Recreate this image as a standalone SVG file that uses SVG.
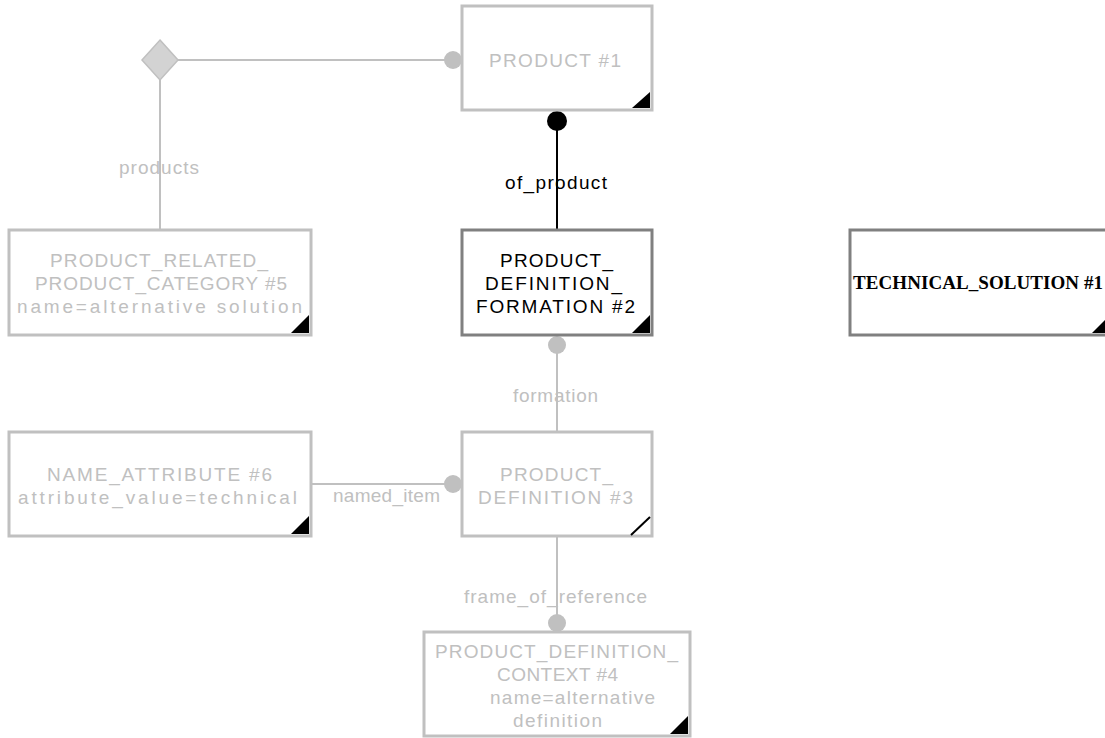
<svg xmlns="http://www.w3.org/2000/svg" width="1105" height="738" viewBox="0 0 1105 738">
<style>
.box{fill:#fff;stroke:#c0c0c0;stroke-width:3}
.box.act{stroke:#808080}
.t{font-family:"Liberation Sans",Arial,sans-serif;font-size:19px;fill:#c0c0c0}
.l{font-size:19px}
.t.act{fill:#000}
.ts{font-family:"Liberation Serif","Times New Roman",serif;font-size:19px;font-weight:bold;fill:#000}
.c{stroke:#c0c0c0;stroke-width:2;fill:none}
.c.act{stroke:#000}
.dot{fill:#c0c0c0}
.dot.act{fill:#000}
.tri{fill:#000}
</style>
<rect width="1105" height="738" fill="#fff"/>
<g id="connectors">
  <line class="c" x1="177" y1="60" x2="453" y2="60"/>
  <circle class="dot" cx="453" cy="60" r="9"/>
  <line class="c" x1="160" y1="80" x2="160" y2="230"/>
  <polygon points="160,40 178,60 160,80 142,60" fill="#d3d3d3" stroke="#c0c0c0" stroke-width="1.5"/>
  <text class="t l" x="119" y="174" textLength="80" lengthAdjust="spacing">products</text>
  <line class="c act" x1="557" y1="121" x2="557" y2="230"/>
  <circle class="dot act" cx="557" cy="121" r="10"/>
  <text class="t l act" x="505" y="189" textLength="102" lengthAdjust="spacing">of_product</text>
  <line class="c" x1="557" y1="345" x2="557" y2="432"/>
  <circle class="dot" cx="557" cy="345" r="9"/>
  <text class="t l" x="513" y="402" textLength="85" lengthAdjust="spacing">formation</text>
  <line class="c" x1="311" y1="484" x2="453" y2="484"/>
  <circle class="dot" cx="453" cy="484" r="9"/>
  <text class="t l" x="333" y="502" textLength="107" lengthAdjust="spacing">named_item</text>
  <line class="c" x1="557" y1="537" x2="557" y2="623"/>
  <circle class="dot" cx="557" cy="623" r="9"/>
  <text class="t l" x="464" y="603" textLength="183" lengthAdjust="spacing">frame_of_reference</text>
</g>
<g id="product1">
  <rect class="box" x="462" y="6" width="190" height="104"/>
  <polygon class="tri" points="650,92 650,108 632,108"/>
  <text class="t" x="489" y="67" textLength="132" lengthAdjust="spacing">PRODUCT #1</text>
</g>
<g id="prpc5">
  <rect class="box" x="9" y="230" width="302" height="105"/>
  <polygon class="tri" points="309,315 309,333 291,333"/>
  <text class="t" x="50" y="267" textLength="218" lengthAdjust="spacing">PRODUCT_RELATED_</text>
  <text class="t" x="35" y="290" textLength="252" lengthAdjust="spacing">PRODUCT_CATEGORY #5</text>
  <text class="t" x="17" y="313" textLength="285" lengthAdjust="spacing">name=alternative solution</text>
</g>
<g id="pdf2">
  <rect class="box act" x="462" y="230" width="190" height="105"/>
  <polygon class="tri" points="650,315 650,333 632,333"/>
  <text class="t act" x="500" y="267" textLength="113" lengthAdjust="spacing">PRODUCT_</text>
  <text class="t act" x="485" y="290" textLength="137" lengthAdjust="spacing">DEFINITION_</text>
  <text class="t act" x="476" y="313" textLength="159" lengthAdjust="spacing">FORMATION #2</text>
</g>
<g id="techsol1">
  <rect class="box act" x="850" y="230" width="262" height="105"/>
  <polygon class="tri" points="1110,315 1110,333 1092,333"/>
  <text class="ts" x="853" y="289" textLength="250" lengthAdjust="spacing">TECHNICAL_SOLUTION #1</text>
</g>
<g id="nameattr6">
  <rect class="box" x="9" y="432" width="302" height="104"/>
  <polygon class="tri" points="309,516 309,534 291,534"/>
  <text class="t" x="47" y="481" textLength="225" lengthAdjust="spacing">NAME_ATTRIBUTE #6</text>
  <text class="t" x="18" y="504" textLength="279" lengthAdjust="spacing">attribute_value=technical</text>
</g>
<g id="pd3">
  <rect class="box" x="462" y="432" width="190" height="104"/>
  <line x1="631" y1="535" x2="650" y2="517" stroke="#000" stroke-width="2"/>
  <text class="t" x="500" y="481" textLength="113" lengthAdjust="spacing">PRODUCT_</text>
  <text class="t" x="478" y="504" textLength="155" lengthAdjust="spacing">DEFINITION #3</text>
</g>
<g id="pdc4">
  <rect class="box" x="424" y="632" width="266" height="104"/>
  <polygon class="tri" points="688,716 688,734 670,734"/>
  <text class="t" x="435" y="658" textLength="243" lengthAdjust="spacing">PRODUCT_DEFINITION_</text>
  <text class="t" x="497" y="681" textLength="121" lengthAdjust="spacing">CONTEXT #4</text>
  <text class="t" x="490" y="704" textLength="165" lengthAdjust="spacing">name=alternative</text>
  <text class="t" x="513" y="727" textLength="89" lengthAdjust="spacing">definition</text>
</g>
</svg>
